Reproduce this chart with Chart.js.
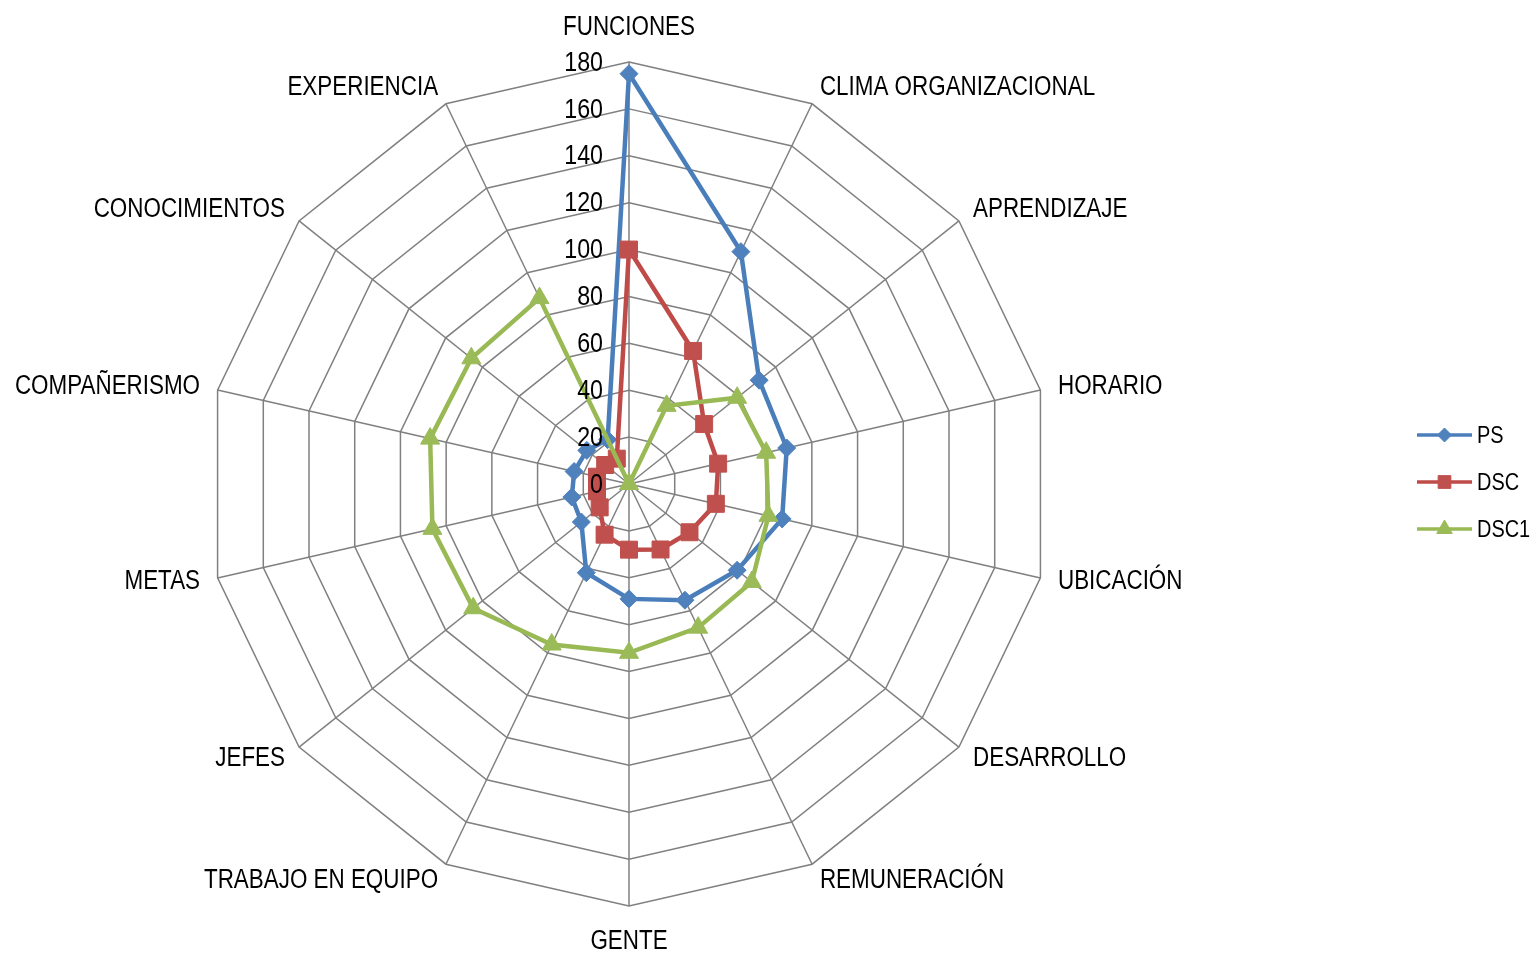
<!DOCTYPE html>
<html lang="es">

<head>
    <meta charset="UTF-8">
    <title>Radar PS / DSC / DSC1</title>
    <script src="https://cdn.jsdelivr.net/npm/chart.js"></script>
    <style>
        body { margin: 0; background: #fff; }
        .grafico { width: 1534px; height: 954px; position: relative; }
    </style>
</head>

<body>
    <div class="grafico">
        <canvas id="radar"></canvas>
    </div>
</body>

<script>
    // categorías del radar (sentido horario desde arriba)
    const categorias = ['FUNCIONES', 'CLIMA ORGANIZACIONAL', 'APRENDIZAJE', 'HORARIO', 'UBICACIÓN', 'DESARROLLO',
        'REMUNERACIÓN', 'GENTE', 'TRABAJO EN EQUIPO', 'JEFES', 'METAS', 'COMPAÑERISMO', 'CONOCIMIENTOS', 'EXPERIENCIA'];

    const valoresPS = [175, 110, 71, 69, 67, 59, 55, 49, 42, 26, 25, 24, 23, 21];
    const valoresDSC = [100, 63, 41, 39, 38, 33, 31, 28, 24, 16, 14, 14, 13, 12];
    const valoresDSC1 = [0, 37, 59, 60, 61, 67, 68, 72, 76, 85, 86, 87, 86, 88];

    // escala 0 - 180 de 20 en 20
    const escalaMin = 0;
    const escalaMax = 180;
    const escalaPaso = 20;

    const fuente = '"Liberation Sans", Arial, sans-serif';
    const angosto = 0.83; // la letra se comprime a lo ancho

    const series = [
        { nombre: 'PS', datos: valoresPS, linea: '#4A7EBB', relleno: '#4F81BD', forma: 'rectRot', radio: 9, radioLeyenda: 7 },
        { nombre: 'DSC', datos: valoresDSC, linea: '#BE4B48', relleno: '#C0504D', forma: 'rect', radio: 12, radioLeyenda: 9 },
        { nombre: 'DSC1', datos: valoresDSC1, linea: '#98B954', relleno: '#9BBB59', forma: 'triangle', radio: 11, radioLeyenda: 9 }
    ];

    function textoAngosto(ctx, txt, x, y, alineacion) {
        ctx.save();
        ctx.translate(x, y);
        ctx.scale(angosto, 1);
        ctx.textAlign = alineacion;
        ctx.fillText(txt, 0, 0);
        ctx.restore();
    }

    // textos de ejes, números de la escala y la leyenda a la derecha
    const textosRadar = {
        id: 'textosRadar',
        afterDraw(chart) {
            const r = chart.scales.r;
            const ctx = chart.ctx;
            ctx.save();
            ctx.fillStyle = '#000';
            ctx.textBaseline = 'middle';

            // números de la escala, a la izquierda del eje vertical
            ctx.font = '28px ' + fuente;
            r.ticks.forEach(t => {
                const d = r.getDistanceFromCenterForValue(t.value);
                textoAngosto(ctx, String(t.value), r.xCenter - 26, r.yCenter - d + 1, 'right');
            });

            // nombres de las categorías
            ctx.font = '27px ' + fuente;
            categorias.forEach((cat, i) => {
                const p = r.getPointPosition(i, r.drawingArea + 18);
                const dx = p.x - r.xCenter;
                let y = p.y;
                let alineacion;
                if (Math.abs(dx) < 1) {
                    alineacion = 'center';
                    y += (p.y < r.yCenter) ? -16 : 18;
                } else {
                    alineacion = dx > 0 ? 'left' : 'right';
                }
                textoAngosto(ctx, cat, p.x, y, alineacion);
            });

            // leyenda: línea con marcador + nombre
            const xIni = 1417, xFin = 1472, yIni = 435, paso = 47;
            ctx.font = '24px ' + fuente;
            series.forEach((s, i) => {
                const y = yIni + i * paso;
                ctx.strokeStyle = s.linea;
                ctx.lineWidth = 3.5;
                ctx.beginPath();
                ctx.moveTo(xIni, y);
                ctx.lineTo(xFin, y);
                ctx.stroke();
                ctx.fillStyle = s.relleno;
                ctx.strokeStyle = s.relleno;
                ctx.lineWidth = 1;
                Chart.helpers.drawPoint(ctx, { pointStyle: s.forma, radius: s.radioLeyenda, rotation: 0, borderWidth: 1 }, (xIni + xFin) / 2, y);
                ctx.fillStyle = '#000';
                textoAngosto(ctx, s.nombre, 1477, y + 1, 'left');
            });

            ctx.restore();
        }
    };

    const datos = {
        labels: categorias,
        datasets: series.map((s, i) => ({
            label: s.nombre,
            data: s.datos,
            borderColor: s.linea,
            borderWidth: 4.5,
            backgroundColor: 'transparent',
            fill: false,
            pointStyle: s.forma,
            pointRadius: s.radio,
            pointHoverRadius: s.radio,
            pointBackgroundColor: s.relleno,
            pointBorderColor: s.relleno,
            pointBorderWidth: 1,
            order: series.length - i // la última serie queda encima
        }))
    };

    new Chart(document.getElementById('radar'), {
        type: 'radar',
        data: datos,
        options: {
            responsive: true,
            maintainAspectRatio: false,
            animation: false,
            layout: {
                padding: { left: 207, right: 483, top: 62, bottom: 48 }
            },
            plugins: {
                legend: { display: false },
                tooltip: { enabled: false }
            },
            elements: {
                line: { tension: 0 }
            },
            scales: {
                r: {
                    min: escalaMin,
                    max: escalaMax,
                    ticks: { stepSize: escalaPaso, display: false },
                    pointLabels: { display: false },
                    grid: { color: '#808080', lineWidth: 1.5 },
                    angleLines: { color: '#808080', lineWidth: 1.5 }
                }
            }
        },
        plugins: [textosRadar]
    });
</script>

</html>
